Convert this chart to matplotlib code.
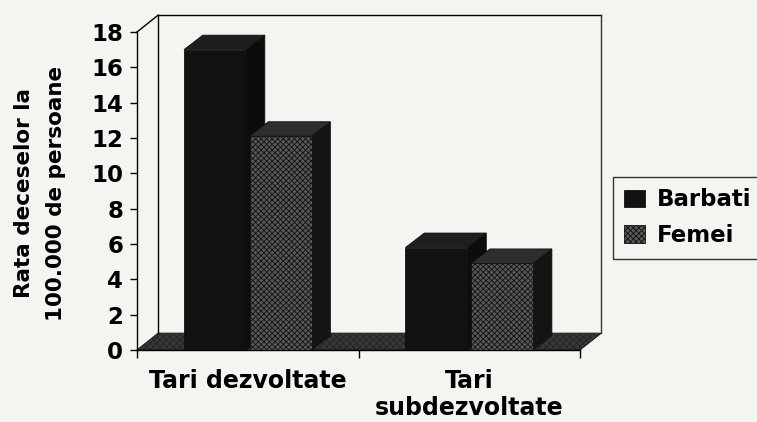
import matplotlib
matplotlib.use('Agg')
import matplotlib.pyplot as plt
from matplotlib.patches import Polygon
import numpy as np

# ---- data ----
categories = ['Tari dezvoltate', 'Tari\nsubdezvoltate']
series_names = ['Barbati', 'Femei']
barbati = [17.0, 5.8]
femei = [12.1, 4.9]
yticks = [0, 2, 4, 6, 8, 10, 12, 14, 16, 18]
ylabel = 'Rata deceselor la\n100.000 de persoane'

# ---- style ----
plt.rcParams['font.family'] = ['DejaVu Sans']
plt.rcParams['font.weight'] = 'bold'
plt.rcParams['hatch.linewidth'] = 0.6
plt.rcParams['hatch.color'] = '#858585'

BG = '#f4f4f1'
fig = plt.figure(figsize=(7.57, 4.22), dpi=100, facecolor=BG)
ax = fig.add_axes([137 / 757, 72 / 422, 443 / 757, 318 / 422])
ax.set_xlim(0, 2)
ax.set_ylim(0, 18)
ax.patch.set_visible(False)
for s in ['top', 'right']:
    ax.spines[s].set_visible(False)
for s in ['left', 'bottom']:
    ax.spines[s].set_color('black')
    ax.spines[s].set_linewidth(1.0)

# depth offsets (data units)
wdx, wdy = 0.095, 0.95   # walls / floor
bdx, bdy = 0.085, 0.82   # bars

ymax = yticks[-1]
# floor
floor = Polygon([(0, 0), (2, 0), (2 + wdx, wdy), (wdx, wdy)], closed=True,
                facecolor='#383838', edgecolor='#222222', lw=0.8,
                hatch='xxxxx', zorder=1, clip_on=False)
ax.add_patch(floor)
# wall outlines
ax.plot([0, wdx], [ymax, ymax + wdy], color='black', lw=1.0, zorder=1.5, clip_on=False)
ax.plot([wdx, wdx], [wdy, ymax + wdy], color='black', lw=1.0, zorder=1.5, clip_on=False)
ax.plot([wdx, 2 + wdx], [ymax + wdy, ymax + wdy], color='black', lw=1.0, zorder=1.5, clip_on=False)
ax.plot([2 + wdx, 2 + wdx], [wdy, ymax + wdy], color='#333333', lw=1.0, zorder=1.5, clip_on=False)

centers = np.arange(len(categories)) + 0.5
width = 0.28
offsets = [-0.148, 0.148]
styles = [
    dict(front='#111111', side='#0c0c0c', top='#1e1e1e', hatch=None),
    dict(front='#585858', side='#141414', top='#2e2e2e', hatch='xxxxxx'),
]
handles = []
for si, (vals, st) in enumerate(zip([barbati, femei], styles)):
    z = 3 + si
    xs = centers + offsets[si]
    bc = ax.bar(xs, vals, width=width, color=st['front'], edgecolor='#111111',
                linewidth=0.6, hatch=st['hatch'], zorder=z + 0.2)
    handles.append(bc)
    for x, v in zip(xs, vals):
        x0, x1 = x - width / 2, x + width / 2
        side = Polygon([(x1, 0), (x1 + bdx, bdy), (x1 + bdx, v + bdy), (x1, v)],
                       closed=True, facecolor=st['side'], edgecolor='#111111',
                       lw=0.6, zorder=z)
        top = Polygon([(x0, v), (x0 + bdx, v + bdy), (x1 + bdx, v + bdy), (x1, v)],
                      closed=True, facecolor=st['top'], edgecolor='#111111',
                      lw=0.6, zorder=z + 0.1, clip_on=False)
        ax.add_patch(side)
        ax.add_patch(top)

# axes ticks
ax.set_yticks(yticks)
ax.set_yticklabels([str(t) for t in yticks], fontsize=16.5, fontweight='bold')
ax.tick_params(axis='y', direction='out', length=5, width=1, pad=5, colors='black')
ax.set_xticks([0, 1, 2])
ax.set_xticklabels(['', '', ''])
ax.tick_params(axis='x', which='major', direction='out', length=6, width=1)
ax.set_xticks(centers, minor=True)
ax.set_xticklabels(categories, minor=True, fontsize=17, fontweight='bold',
                   linespacing=1.15)
ax.tick_params(axis='x', which='minor', length=0, pad=14)

fig.text(40 / 757, 1 - 193 / 422, ylabel, rotation=90, ha='center', va='center',
         multialignment='center', fontsize=15.5, fontweight='bold', linespacing=1.75)

leg = ax.legend(handles=handles, labels=series_names, loc='upper left',
                bbox_to_anchor=(613 / 757, 1 - 177 / 422), bbox_transform=fig.transFigure,
                frameon=True, fancybox=False, fontsize=16.5, handlelength=0.9,
                handleheight=0.8, handletextpad=0.5, borderpad=0.5,
                labelspacing=0.55, borderaxespad=0)
leg.get_frame().set_edgecolor('black')
leg.get_frame().set_facecolor(BG)
leg.get_frame().set_linewidth(1.0)

fig.savefig('out.png', dpi=100, facecolor=BG)
